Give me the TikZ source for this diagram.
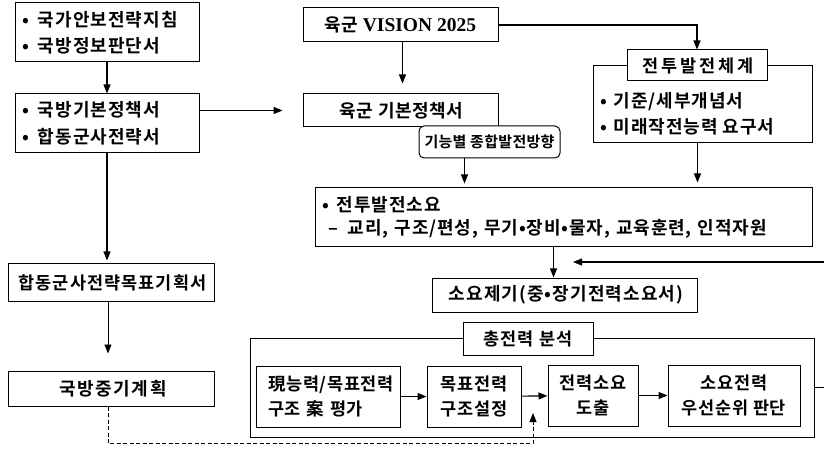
\documentclass[tikz,border=0pt]{standalone}
\usepackage{fontspec}
\setmainfont{Noto Sans CJK KR}[BoldFont={Noto Sans CJK KR Bold}]
\newfontfamily\tms{Liberation Serif}
\usetikzlibrary{arrows.meta}
\newcommand\kf[3]{\bfseries\fontsize{#1}{#2}\selectfont\addfontfeatures{LetterSpace=#3}}
\tikzset{
  box/.style={draw, line width=1pt, fill=white, inner sep=0pt},
  arr/.style={line width=1.1pt, -{Triangle[length=9pt,width=7pt]}},
  thinarr/.style={line width=0.7pt, -{Triangle[length=9pt,width=7pt]}},
  dasharr/.style={line width=0.8pt, dash pattern=on 4pt off 2.5pt, -{Triangle[length=9pt,width=7pt]}},
  txt/.style={inner sep=0pt, align=left}
}
\begin{document}
\begin{tikzpicture}[x=1pt,y=-1pt]
\useasboundingbox (0,0) rectangle (824,454);
\clip (0,0) rectangle (824,454);
\fill[white] (0,0) rectangle (824,454);

% left column
\node[box, minimum width=184, minimum height=59, inner xsep=7pt, text width=170, align=left, font=\kf{18}{26}{6}] (A) at (107,32.5) {•\hspace{3pt} 국가안보전략지침\\•\hspace{3pt} 국방정보판단서};
\node[box, minimum width=184, minimum height=59, inner xsep=7pt, text width=170, align=left, font=\kf{18}{27}{6}] (B) at (107,123.5) {•\hspace{3pt} 국방기본정책서\\•\hspace{3pt} 합동군사전략서};
\node[box, minimum width=206, minimum height=37, font=\kf{17.5}{20}{6}] (hap) at (111,282.5) {\hspace*{3pt}합동군사전략목표기획서};
\node[box, minimum width=206, minimum height=35, font=\kf{18}{20}{9}] (jung) at (111,388.5) {\hspace*{4pt}국방중기계획};

% middle column
\node[box, minimum width=195, minimum height=34, font=\kf{18}{20}{2}] (vis) at (400.5,25) {육군 {\tms\bfseries\fontsize{19.5}{20}\selectfont VISION 2025}};
\node[box, minimum width=195, minimum height=33, font=\kf{18}{20}{3}] (ygb) at (400.5,110.5) {\hspace*{2pt}육군 기본정책서};
\node[box, rounded corners=5pt, minimum width=141, minimum height=32, font=\kf{15}{18}{2}] (func) at (489.5,142) {기능별 종합발전방향};

% right column
\node[box, minimum width=219, minimum height=77] (cdo) at (702.5,104.5) {};
\node[box, minimum width=140, minimum height=31, font=\kf{17.5}{20}{16}] (cdl) at (697,65.5) {\hspace*{2pt}전투발전체계};
\node[txt, anchor=west, font=\kf{18}{26}{5}] (cdotxt) at (600,114) {•\hspace{2pt} 기준/세부개념서\\•\hspace{2pt} 미래작전능력 요구서};

\node[box, minimum width=497, minimum height=59, inner xsep=7pt, text width=483, align=left, font=\kf{18}{23}{5}] (req) at (563.5,217.5) {•\hspace{2pt} 전투발전소요\\\hspace*{6pt}–\hspace{4pt} 교리, 구조/편성, 무기•장비•물자, 교육훈련, 인적자원};
\node[box, minimum width=265, minimum height=34, font=\kf{18}{20}{6}] (sog) at (564.5,295) {\hspace*{3pt}소요제기(중•장기전력소요서)};

% total analysis
\node[box, minimum width=564, minimum height=99] (tot) at (532,387.5) {};
\node[box, minimum width=130, minimum height=33, font=\kf{17.5}{20}{6}] (totl) at (528,338.5) {총전력 분석};
\node[box, minimum width=144, minimum height=61, inner xsep=12pt, text width=120, align=left, font=\kf{17.5}{25}{4}] (b1) at (328,396.5) {現능력/목표전력\\구조 案 평가};
\node[box, minimum width=94, minimum height=61, align=center, font=\kf{17.5}{25}{4}] (b2) at (474,396.5) {목표전력\\구조설정};
\node[box, minimum width=90, minimum height=61, align=center, font=\kf{17.5}{25}{4}] (b3) at (593,395.5) {전력소요\\도출};
\node[box, minimum width=132, minimum height=61, align=center, font=\kf{17.5}{25}{4}] (b4) at (734,395.5) {소요전력\\우선순위 판단};

% connectors
\draw[arr] (A.south) -- (B.north);
\draw[arr, shorten >=20pt] (B.east |- ygb.west) -- (ygb.west);
\draw[arr, shorten >=3pt] (B.south) -- (B.south |- hap.north);
\draw[thinarr, shorten >=17pt] ([xshift=-3pt]hap.south) -- ([xshift=-3pt]jung.north);

\draw[arr, shorten >=10pt] ([xshift=2pt]vis.south) -- ([xshift=2pt]ygb.north);
\draw[arr] (vis.east) -| (cdl.north);
\draw[arr, shorten >=5pt] ([xshift=-5pt]cdo.south) -- ([xshift=-5pt]cdo.south |- req.north);
\draw[arr, shorten >=4pt] ([xshift=-25pt]func.south) -- ([xshift=-25pt]func.south |- req.north);
\draw[arr] ([xshift=-11pt]req.south -| sog.north) -- ([xshift=-11pt]sog.north);

\draw[arr] (b1) -- (b2);
\draw[arr] (b2) -- (b3);
\draw[arr] (b3) -- (b4);

\coordinate (fbA) at (840,387.5);
\coordinate (fbB) at (840,262);
\coordinate (fbtip) at (573,262);
\draw[arr] (tot.east) -- (fbA) -- (fbB) -- (fbtip);

\coordinate (dtip) at (533,413);
\draw[dasharr] ([xshift=-3pt]jung.south) -- ++(0,37) -| (dtip);
\end{tikzpicture}
\end{document}
